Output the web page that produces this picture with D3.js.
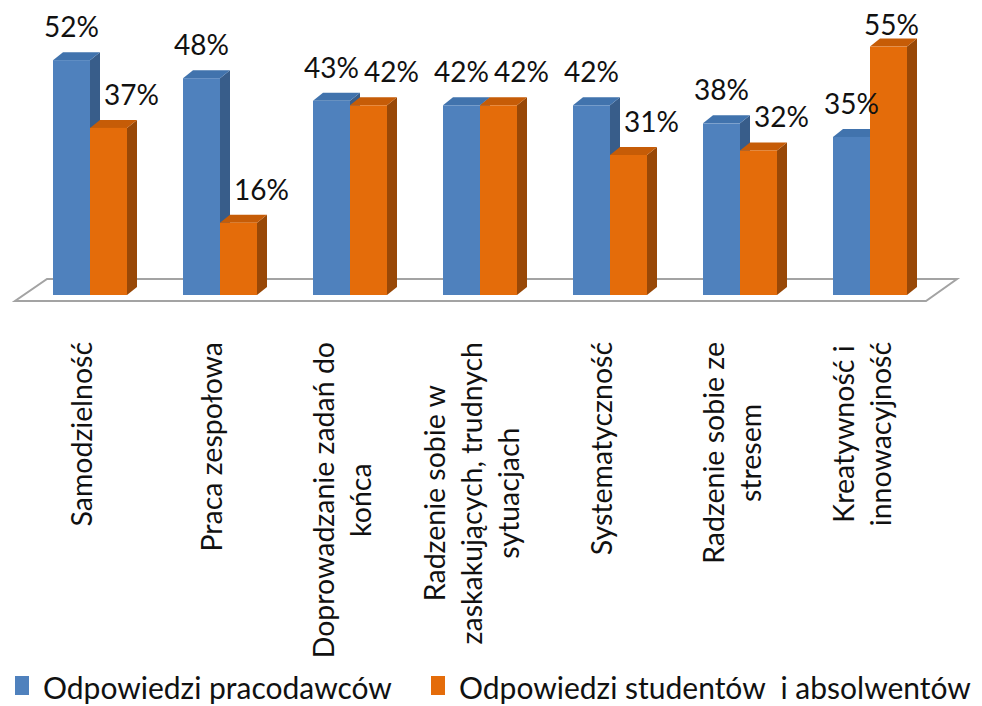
<!DOCTYPE html>
<html>
<head>
<meta charset="utf-8">
<script src="https://cdn.jsdelivr.net/npm/d3@7"></script>
<style>
  html, body { margin: 0; padding: 0; background: #ffffff; }
  svg { display: block; }
  text { font-family: Lato, "Open Sans", sans-serif; fill: #111; white-space: pre; }
</style>
</head>
<body>
<script>
// Skill categories (line breaks as they are wrapped under the floor)
const categories = [
  "Samodzielność",
  "Praca zespołowa",
  "Doprowadzanie zadań do końca",
  "Radzenie sobie w zaskakujących, trudnych sytuacjach",
  "Systematyczność",
  "Radzenie sobie ze stresem",
  "Kreatywność i innowacyjność"
];
const categoryLines = [
  ["Samodzielność"],
  ["Praca zespołowa"],
  ["Doprowadzanie zadań do", "końca"],
  ["Radzenie sobie w", "zaskakujących, trudnych", "sytuacjach"],
  ["Systematyczność"],
  ["Radzenie sobie ze", "stresem"],
  ["Kreatywność i", "innowacyjność"]
];
const seriesNames = ["Odpowiedzi pracodawców", "Odpowiedzi studentów  i absolwentów"];
const employers = [52, 48, 43, 42, 42, 38, 35];
const students  = [37, 16, 42, 42, 31, 32, 55];

const W = 982, H = 706;
const palette = [
  { front: "#4f81bd", top: "#4173ad", side: "#385d8a" },
  { front: "#e46c0a", top: "#c65c07", side: "#984807" }
];
const depth = { dx: 10, dy: -8 };

const svg = d3.select("body").append("svg").attr("width", W).attr("height", H);

const x = d3.scaleBand()
  .domain(categories)
  .range([25, 935])
  .paddingInner(0.4308)
  .paddingOuter(0.2154);
const xs = d3.scaleBand().domain([0, 1]).range([0, x.bandwidth()]);
const y = d3.scaleLinear().domain([0, 60]).range([295, 24]);

// Floor of the 3-D plot area
const [r0, r1] = x.range();
const fy = y(0) + 6;
svg.append("polygon")
  .attr("points", [[r0 - 10, fy], [r1 - 9, fy], [r1 + 22, fy - 22], [r0 + 22, fy - 22]].map(p => p.join(",")).join(" "))
  .attr("fill", "#ffffff")
  .attr("stroke", "#a3a3a3")
  .attr("stroke-width", 2);

const rows = categories.map((c, i) => ({ cat: c, vals: [employers[i], students[i]] }));

// Bars: each series drawn as prism (side, top, front)
[0, 1].forEach(s => {
  const g = svg.append("g");
  rows.forEach(r => {
    const x0 = x(r.cat) + xs(s);
    const w = xs.bandwidth();
    const top = y(r.vals[s]);
    const bot = y(0);
    const { dx, dy } = depth;
    g.append("polygon")
      .attr("points", [[x0 + w, top], [x0 + w + dx, top + dy], [x0 + w + dx, bot + dy], [x0 + w, bot]].map(p => p.join(",")).join(" "))
      .attr("fill", palette[s].side);
    g.append("polygon")
      .attr("points", [[x0, top], [x0 + dx, top + dy], [x0 + w + dx, top + dy], [x0 + w, top]].map(p => p.join(",")).join(" "))
      .attr("fill", palette[s].top);
    g.append("rect")
      .attr("x", x0).attr("y", top)
      .attr("width", w).attr("height", bot - top)
      .attr("fill", palette[s].front);
  });
});

// Value labels
const labelMinY = 35;
[0, 1].forEach(s => {
  rows.forEach(r => {
    const x0 = x(r.cat) + xs(s);
    const w = xs.bandwidth();
    let ly = y(r.vals[s]) - 23;
    const clamped = ly < labelMinY;
    if (clamped) ly = labelMinY;
    const shift = s === 1 ? (clamped ? 3 : 23) : 0;
    svg.append("text")
      .attr("x", x0 + w / 2 + shift)
      .attr("y", ly)
      .attr("text-anchor", "middle")
      .attr("font-size", 28)
      .text(r.vals[s] + "%");
  });
});

// Rotated category labels
const labelTop = 342;
const lineGap = 37;
categories.forEach((c, i) => {
  const lines = categoryLines[i];
  const cx = x(c) + x.bandwidth() / 2;
  const g = svg.append("g");
  const texts = lines.map((ln, k) =>
    g.append("text")
      .attr("x", 0)
      .attr("y", 2 + (k - (lines.length - 1) / 2) * lineGap)
      .attr("text-anchor", "middle")
      .attr("font-size", 28.5)
      .text(ln)
  );
  const maxLen = d3.max(texts, t => t.node().getComputedTextLength());
  g.attr("transform", `translate(${cx},${labelTop + maxLen / 2}) rotate(-90)`);
});

// Legend
const legendItems = [
  { name: seriesNames[0], color: palette[0].front, sx: 15, tx: 43 },
  { name: seriesNames[1], color: palette[1].front, sx: 431, tx: 459 }
];
legendItems.forEach(it => {
  svg.append("rect").attr("x", it.sx).attr("y", 676).attr("width", 14).attr("height", 19).attr("fill", it.color);
  svg.append("text").attr("x", it.tx).attr("y", 699).attr("font-size", 30).text(it.name);
});
</script>
</body>
</html>
